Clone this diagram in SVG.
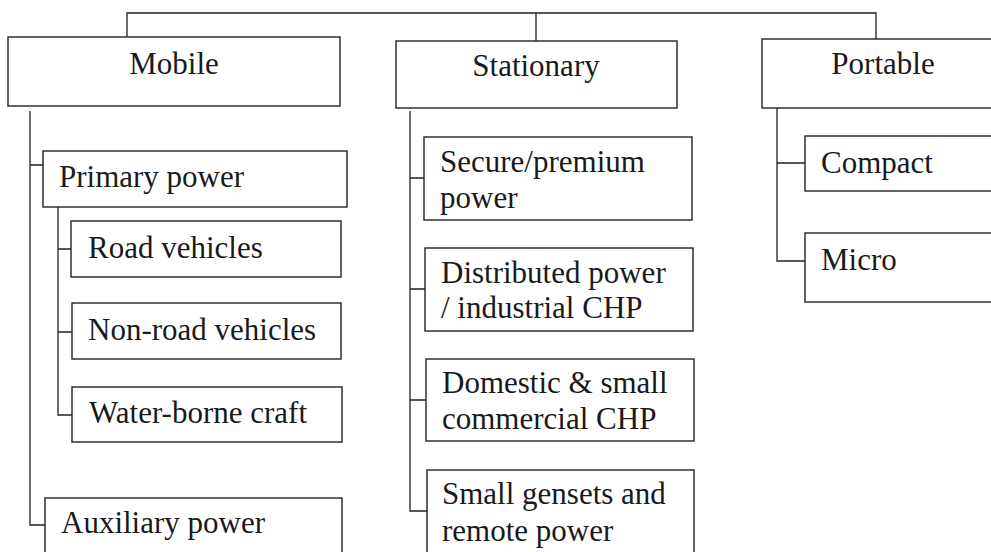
<svg xmlns="http://www.w3.org/2000/svg" width="991" height="552" viewBox="0 0 991 552">
<style>
.box{fill:#fff;stroke:#222;stroke-width:1.4}
.ln{fill:none;stroke:#222;stroke-width:1.3}
text{font-family:'Liberation Serif','DejaVu Serif',serif;font-size:31px;fill:#1a1a1a}
.c{text-anchor:middle}
</style>
<rect width="991" height="552" fill="#fff"/>
<g id="connectors">
<path class="ln" d="M127,37 V13 H876 V39 M536,13 V41"/>
<path class="ln" d="M30,111 V525 H45 M30,165 H43"/>
<path class="ln" d="M58,207 V415 H72 M58,249 H71 M58,332 H72"/>
<path class="ln" d="M410,111 V511 H427 M410,178 H424 M410,289 H425 M410,400 H426"/>
<path class="ln" d="M777,108 V261 H805 M777,163 H805"/>
</g>
<g id="mobile"><rect class="box" x="8" y="37" width="332" height="69"/><text class="c" x="174" y="74">Mobile</text></g>
<g id="stationary"><rect class="box" x="396" y="41" width="281" height="67"/><text class="c" x="536" y="76">Stationary</text></g>
<g id="portable"><rect class="box" x="762" y="39" width="240" height="69"/><text class="c" x="883" y="74">Portable</text></g>
<g id="primary"><rect class="box" x="43" y="151" width="304" height="56"/><text x="59" y="187">Primary power</text></g>
<g id="road"><rect class="box" x="71" y="221" width="270" height="56"/><text x="88" y="258">Road vehicles</text></g>
<g id="nonroad"><rect class="box" x="72" y="303" width="269" height="56"/><text x="88" y="340">Non-road vehicles</text></g>
<g id="water"><rect class="box" x="72" y="387" width="270" height="55"/><text x="89" y="423">Water-borne craft</text></g>
<g id="auxiliary"><rect class="box" x="45" y="498" width="297" height="70"/><text x="61" y="533">Auxiliary power</text></g>
<g id="secure"><rect class="box" x="424" y="137" width="268" height="83"/><text x="440" y="172">Secure/premium</text><text x="440" y="208">power</text></g>
<g id="distributed"><rect class="box" x="425" y="248" width="268" height="83"/><text x="441" y="283">Distributed power</text><text x="441" y="318">/ industrial CHP</text></g>
<g id="domestic"><rect class="box" x="426" y="359" width="268" height="82"/><text x="442" y="393">Domestic &amp; small</text><text x="442" y="429">commercial CHP</text></g>
<g id="gensets"><rect class="box" x="427" y="470" width="267" height="100"/><text x="442" y="504">Small gensets and</text><text x="442" y="541">remote power</text></g>
<g id="compact"><rect class="box" x="805" y="136" width="200" height="55"/><text x="821" y="173">Compact</text></g>
<g id="micro"><rect class="box" x="805" y="233" width="200" height="69"/><text x="821" y="270">Micro</text></g>
</svg>
